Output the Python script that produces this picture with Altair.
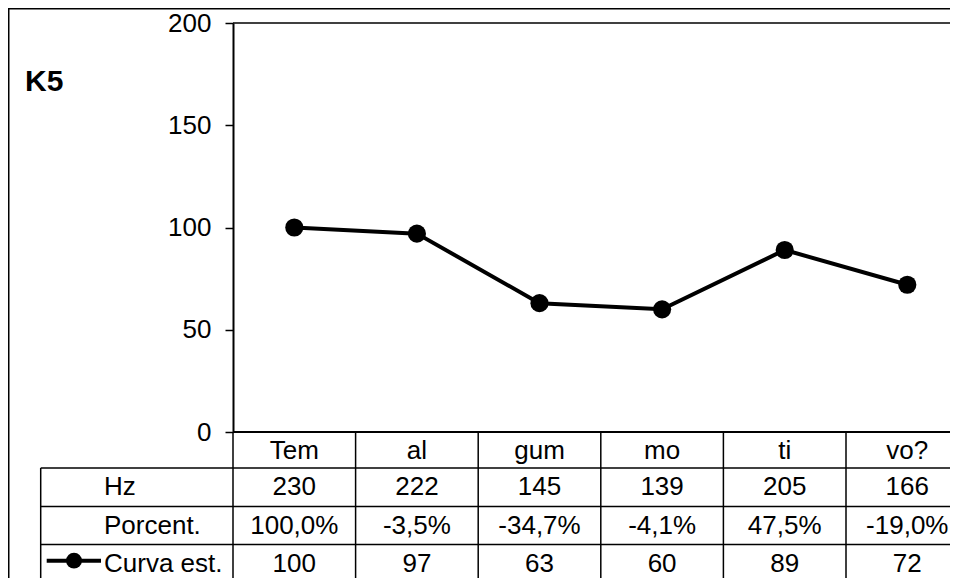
import altair as alt
import pandas as pd

# ---- data ----
cats = ["Tem", "al", "gum", "mo", "ti", "vo?"]
curva = [100, 97, 63, 60, 89, 72]
hz = [230, 222, 145, 139, 205, 166]
porcent = ["100,0%", "-3,5%", "-34,7%", "-4,1%", "47,5%", "-19,0%"]
row_labels = ["Hz", "Porcent.", "Curva est."]
y_ticks = [0, 50, 100, 150, 200]
title_text = "K5"

# ---- layout / style constants (pixels inside the svg) ----
W, H = 942, 570
PLOT_L, PLOT_R = 225, 960.6
PLOT_T, PLOT_B = 15, 424
LABEL_COL_L = 32.7
ROW_LINES = [460, 498.5, 536.5]
HEADER_Y = 442.5
ROW_Y = [479, 517.5, 555.5]
FONT = "Liberation Sans"
FS = 26
BIG = 1000

df = pd.DataFrame({"cat": cats, "curva": curva, "hz": hz, "porcent": porcent})
one = pd.DataFrame({"a": [0]})

xscale = alt.Scale(type="band", domain=cats, range=[PLOT_L, PLOT_R],
                   paddingInner=0, paddingOuter=0)
xenc = alt.X("cat:N", sort=cats, scale=xscale, axis=None)

def hrule(y, x1, x2, w=1.5):
    return alt.Chart(one).mark_rule(color="black", strokeWidth=w).encode(
        x=alt.value(x1), x2=alt.value(x2), y=alt.value(y))

layers = []

# outer border
layers.append(alt.Chart(one).mark_rect(fillOpacity=0, stroke="black", strokeWidth=1.5).encode(
    x=alt.value(0.75), y=alt.value(0.75), x2=alt.value(BIG), y2=alt.value(BIG)))

# plot top line and x baseline
layers.append(hrule(PLOT_T, PLOT_L, BIG, 1.5))
layers.append(hrule(PLOT_B, PLOT_L, BIG, 2.2))

# table horizontal lines
for yl in ROW_LINES:
    layers.append(hrule(yl, LABEL_COL_L, BIG, 1.5))

# label column left line
layers.append(alt.Chart(one).mark_rule(color="black", strokeWidth=1.5).encode(
    x=alt.value(LABEL_COL_L), y=alt.value(ROW_LINES[0]), y2=alt.value(BIG)))

# column separators
layers.append(alt.Chart(df).mark_rule(color="black", strokeWidth=1.5).encode(
    x=alt.X("cat:N", sort=cats, scale=xscale, axis=None, bandPosition=0),
    y=alt.value(PLOT_B), y2=alt.value(BIG)))

txt = dict(font=FONT, fontSize=FS, color="black", baseline="middle")

# header row (categories)
layers.append(alt.Chart(df).mark_text(align="center", **txt).encode(
    x=xenc, y=alt.value(HEADER_Y), text="cat:N"))

# value rows
for field, yv in zip(["hz", "porcent", "curva"], ROW_Y):
    layers.append(alt.Chart(df).mark_text(align="center", **txt).encode(
        x=xenc, y=alt.value(yv), text=alt.Text(f"{field}:N")))

# row labels
lab_df = pd.DataFrame({"lab": row_labels})
for lab, yv in zip(row_labels, ROW_Y):
    layers.append(alt.Chart(lab_df[lab_df.lab == lab]).mark_text(align="left", **txt).encode(
        x=alt.value(96), y=alt.value(yv), text="lab:N"))

# legend symbol in the last row
layers.append(alt.Chart(one).mark_rule(color="black", strokeWidth=4).encode(
    x=alt.value(38.7), x2=alt.value(93), y=alt.value(552.7)))
layers.append(alt.Chart(one).mark_point(filled=True, color="black", opacity=1, size=250).encode(
    x=alt.value(66), y=alt.value(552.7)))

# title K5
layers.append(alt.Chart(pd.DataFrame({"t": [title_text]})).mark_text(
    align="left", baseline="alphabetic", font=FONT, fontSize=30, fontWeight="bold", color="black").encode(
    x=alt.value(17), y=alt.value(83), text="t:N"))

# the series
yenc = alt.Y("curva:Q",
             scale=alt.Scale(domain=[0, 200], range=[PLOT_B, PLOT_T], nice=False, zero=True),
             axis=alt.Axis(values=y_ticks, offset=-PLOT_L, title=None, grid=False,
                           domainColor="black", domainWidth=2, tickColor="black",
                           tickWidth=1.5, tickSize=8, labelFont=FONT, labelFontSize=FS,
                           labelColor="black", labelPadding=14))
layers.append(alt.Chart(df).mark_line(color="black", strokeWidth=4).encode(x=xenc, y=yenc))
layers.append(alt.Chart(df).mark_point(filled=True, color="black", opacity=1, size=330).encode(
    x=xenc, y=alt.Y("curva:Q")))

chart = alt.layer(*layers).properties(
    width=W, height=H, autosize=alt.AutoSizeParams(type="none"), padding=0
).configure_view(stroke=None).configure(background="white")

chart.save("out.html", embed_options={"renderer": "svg", "actions": False})
